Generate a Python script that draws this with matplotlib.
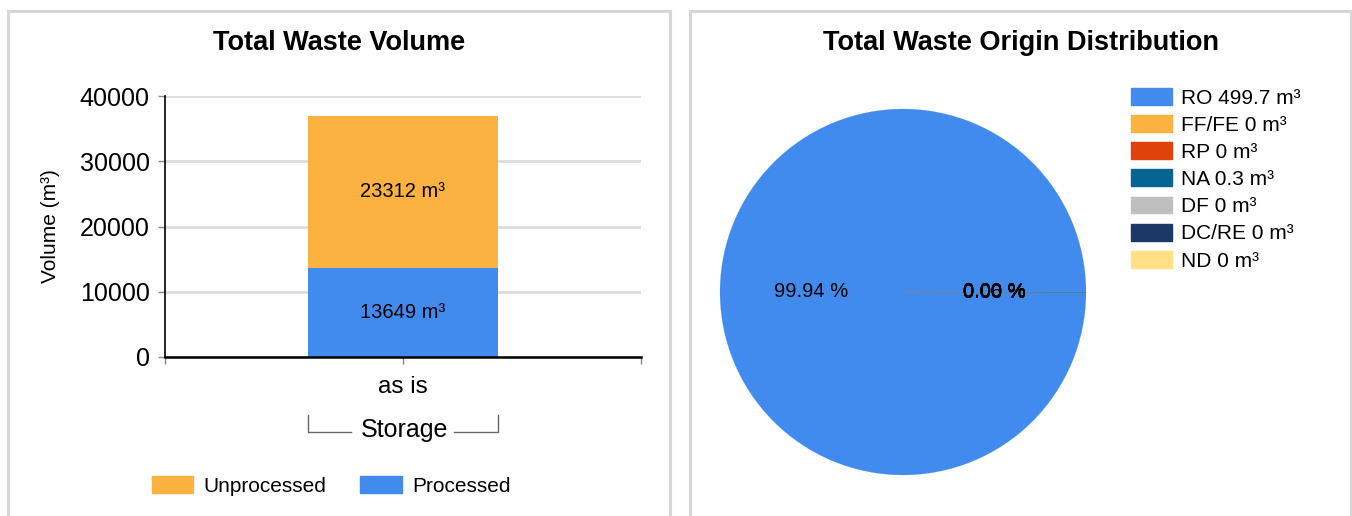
import matplotlib
matplotlib.use('Agg')
import matplotlib.pyplot as plt
from matplotlib.patches import Patch
from matplotlib.lines import Line2D

plt.rcParams['font.family'] = ['Liberation Sans', 'DejaVu Sans']

# Left chart data
categories = ['as is']
group_label = 'Storage'
processed = [13649]
unprocessed = [23312]
y_ticks = [0, 10000, 20000, 30000, 40000]

# Right chart data
origin_names = ['RO', 'FF/FE', 'RP', 'NA', 'DF', 'DC/RE', 'ND']
origin_values = [499.7, 0, 0, 0.3, 0, 0, 0]
origin_colors = ['#428bee', '#fbb241', '#e0420e', '#056592', '#bfbfbf', '#1c3867', '#ffe083']

blue = '#428bee'
orange = '#fbb241'

W, H = 1352, 516
fig = plt.figure(figsize=(W / 100, H / 100), dpi=100)

# panel frames
frame_col = '#d6d6d6'
for x0, x1 in [(8, 670), (690, 1351)]:
    for xs, ys in [([x0, x1], [11, 11]), ([x0, x0], [11, 520]), ([x1, x1], [11, 520])]:
        fig.add_artist(Line2D([x / W for x in xs], [1 - y / H for y in ys],
                              color=frame_col, lw=2.2, transform=fig.transFigure))

# ---- left: stacked bar ----
ax = fig.add_axes([165 / W, 1 - 357 / H, 476 / W, 261 / H])
x = range(len(categories))
ax.bar(x, processed, width=0.4, color=blue, zorder=3)
ax.bar(x, unprocessed, width=0.4, bottom=processed, color=orange, zorder=3)
for i in x:
    ax.text(i, processed[i] / 2, f'{processed[i]} m³', ha='center', va='center', fontsize=14.5, zorder=4)
    ax.text(i, processed[i] + unprocessed[i] / 2, f'{unprocessed[i]} m³', ha='center', va='center',
            fontsize=14.5, zorder=4)

ax.set_xlim(-0.5, 0.5)
ax.set_ylim(0, 40000)
ax.set_yticks(y_ticks)
ax.set_yticklabels([str(t) for t in y_ticks], fontsize=18)
ax.set_xticks(list(x))
ax.set_xticklabels(categories, fontsize=17.5)
ax.set_xticks([-0.5, 0.5], minor=True)
ax.tick_params(axis='y', length=5, width=1, color='#888888', pad=6)
ax.tick_params(axis='x', which='both', length=5, width=1, color='#888888', pad=9)
ax.grid(axis='y', color='#dcdcdc', lw=2, zorder=0)
ax.set_axisbelow(True)
for s in ['top', 'right']:
    ax.spines[s].set_visible(False)
ax.spines['bottom'].set_linewidth(1.8)
ax.spines['left'].set_linewidth(1.2)
ax.spines['bottom'].set_zorder(5)
ax.set_ylabel('Volume (m³)', fontsize=15, labelpad=14)

# group bracket
tr = ax.get_xaxis_transform()
br = '#666666'
ax.plot([-0.2, -0.2, -0.11], [-0.222, -0.287, -0.287], color=br, lw=1, transform=tr, clip_on=False)
ax.plot([0.2, 0.2, 0.107], [-0.222, -0.287, -0.287], color=br, lw=1, transform=tr, clip_on=False)
ax.text(0.003, -0.28, group_label, ha='center', va='center', fontsize=18, transform=tr)
fig.text(339 / W, 1 - 43 / H, 'Total Waste Volume', ha='center', va='center',
         fontsize=19.5, fontweight='bold')

fig.legend(handles=[Patch(color=orange, label='Unprocessed'), Patch(color=blue, label='Processed')],
           loc='center', bbox_to_anchor=(331 / W, 1 - 486 / H), ncol=2, frameon=False,
           fontsize=15, handlelength=2.0, handleheight=0.87, handletextpad=0.5,
           columnspacing=1.6, borderpad=0)

# ---- right: pie ----
axp = fig.add_axes([720 / W, 1 - 475 / H, 366 / W, 366 / H])
wedges, _, autotexts = axp.pie(origin_values, colors=origin_colors, startangle=0,
                               autopct=lambda p: f'{p:.2f} %', pctdistance=0.5, radius=1,
                               wedgeprops=dict(linewidth=0.1),
                               textprops=dict(fontsize=14.5))
for w, c in zip(wedges, origin_colors):
    w.set_edgecolor(c)
axp.set_xlim(-1, 1)
axp.set_ylim(-1, 1)
axp.set_aspect('equal')
fig.text(1021 / W, 1 - 43 / H, 'Total Waste Origin Distribution', ha='center', va='center',
         fontsize=19.5, fontweight='bold')

leg_handles = [Patch(color=c, label=f'{n} {v:g} m³') for n, v, c in zip(origin_names, origin_values, origin_colors)]
fig.legend(handles=leg_handles, loc='upper left', bbox_to_anchor=(1131 / W, 1 - 88 / H),
           frameon=False, fontsize=15, handlelength=1.95, handleheight=0.87, handletextpad=0.45,
           labelspacing=0.36, borderpad=0, borderaxespad=0)

fig.savefig('out.png', dpi=100)
